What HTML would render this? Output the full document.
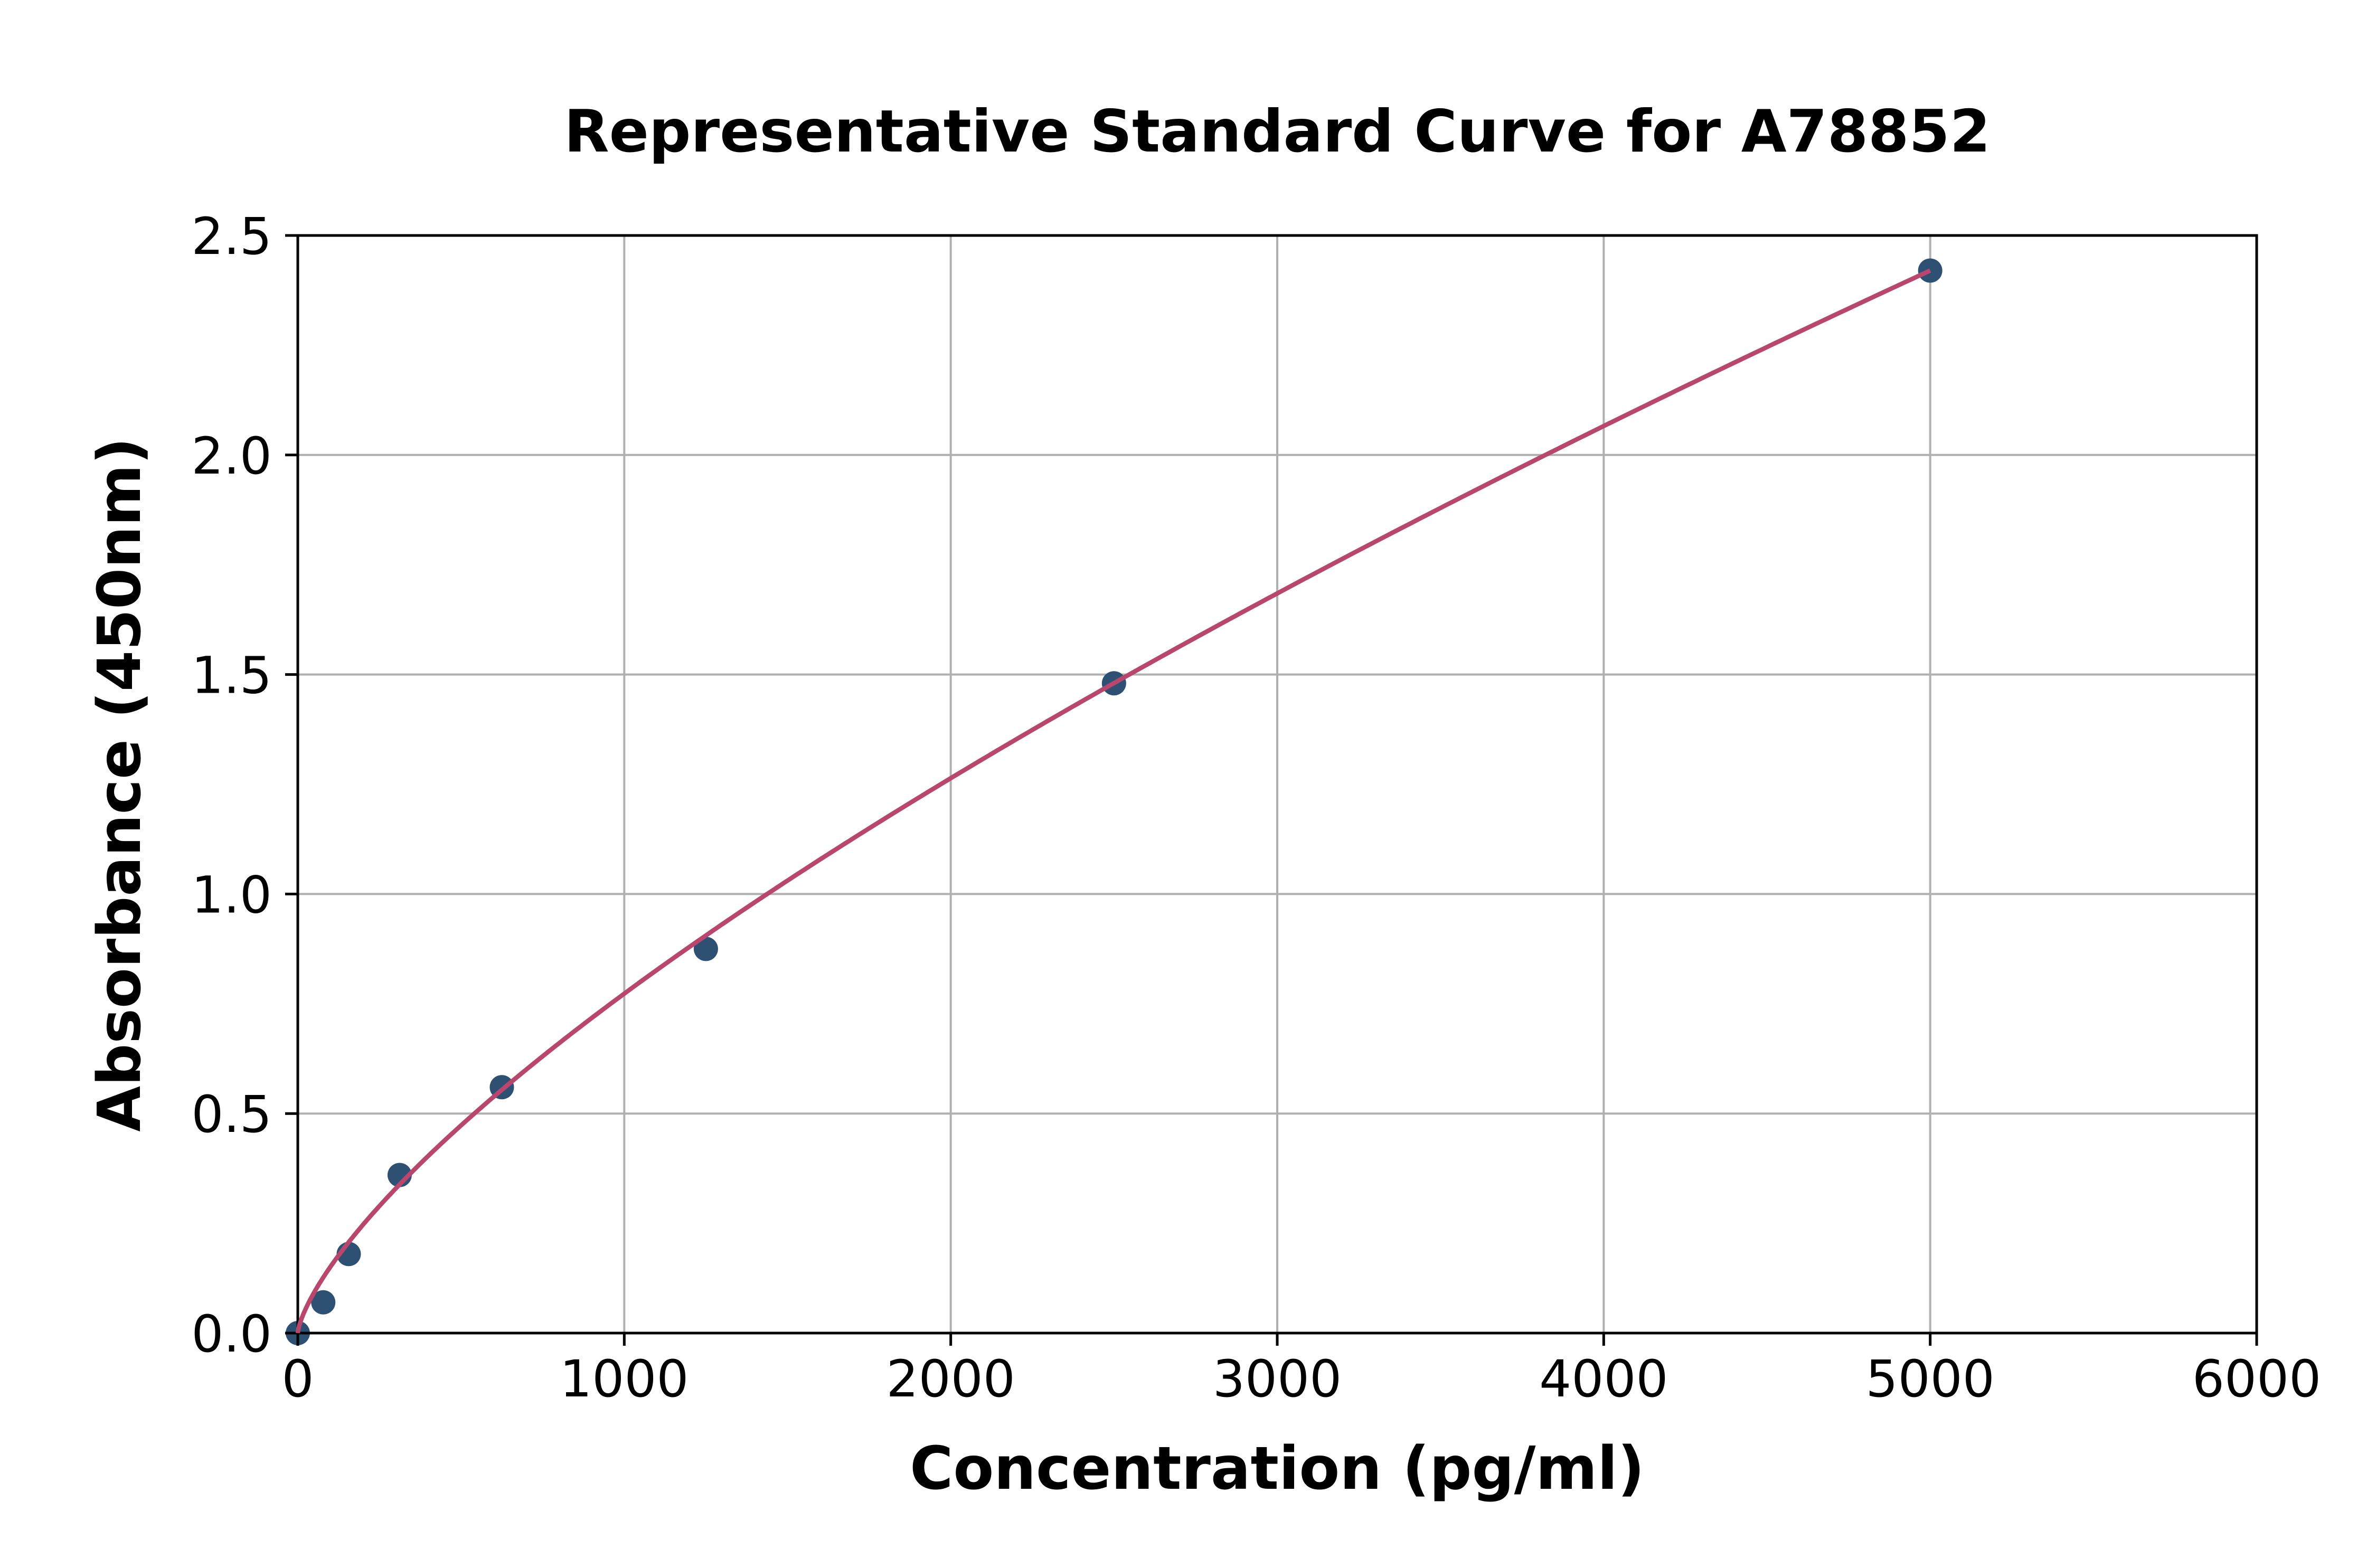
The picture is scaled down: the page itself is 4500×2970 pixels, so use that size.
<!DOCTYPE html>
<html><head><meta charset="utf-8"><style>html,body{margin:0;padding:0;background:#fff;}svg{display:block}</style></head>
<body>
<svg id="s" width="4500" height="2970" xmlns="http://www.w3.org/2000/svg" font-family="DejaVu Sans, Liberation Sans, sans-serif">
<rect width="4500" height="2970" fill="#fff"/>
<g id="grid" stroke="#b0b0b0" stroke-width="4"></g>
<path id="curve" fill="none" stroke="#b9476d" stroke-width="8.5"/>
<g id="pts" fill="#2e5073"></g>
<rect x="564" y="446" width="3710" height="2079" fill="none" stroke="#000" stroke-width="5"/>
<g id="ticks" stroke="#000" stroke-width="5"></g>
<g id="labels" font-size="96" fill="#000"></g>
<text x="2419" y="287" font-size="111" font-weight="bold" text-anchor="middle">Representative Standard Curve for A78852</text>
<text x="2419" y="2820" font-size="112" font-weight="bold" text-anchor="middle">Concentration (pg/ml)</text>
<text transform="translate(265,1486) rotate(-90)" font-size="112" font-weight="bold" text-anchor="middle">Absorbance (450nm)</text>
</svg>
<script>
var L=564,R=4274,T=446,B=2525;
function X(v){return L+v*(R-L)/6000}
function Y(v){return B-v*(B-T)/2.5}
var ns="http://www.w3.org/2000/svg";
function el(p,n,a,t){var e=document.createElementNS(ns,n);for(var k in a)e.setAttribute(k,a[k]);if(t!==undefined)e.textContent=t;document.getElementById(p).appendChild(e);}
for(var i=0;i<=6;i++){var x=X(i*1000);
 if(i>0&&i<6)el('grid','line',{x1:x,x2:x,y1:T,y2:B});
 el('ticks','line',{x1:x,x2:x,y1:B,y2:B+24});
 el('labels','text',{x:x,y:2645,'text-anchor':'middle'},String(i*1000));}
for(var j=0;j<=5;j++){var y=Y(j*0.5);
 if(j>0&&j<5)el('grid','line',{x1:L,x2:R,y1:y,y2:y});
 el('ticks','line',{x1:L-24,x2:L,y1:y,y2:y});
 el('labels','text',{x:515,y:y+35,'text-anchor':'end'},(j*0.5).toFixed(1));}
var b=0.709,a=2.42/Math.pow(5000,b),d="";
for(var k=0;k<=400;k++){var v=5000*Math.pow(k/400,1.6);d+=(k?"L":"M")+X(v).toFixed(1)+","+Y(a*Math.pow(v,b)).toFixed(1);}
document.getElementById('curve').setAttribute('d',d);
var P=[[0,0],[78,0.07],[156,0.18],[312,0.36],[625,0.56],[1250,0.875],[2500,1.48],[5000,2.42]];
P.forEach(function(p){el('pts','circle',{cx:X(p[0]),cy:Y(p[1]),r:23});});
document.getElementById('s').appendChild(document.getElementById('curve'));
</script>
</body></html>
